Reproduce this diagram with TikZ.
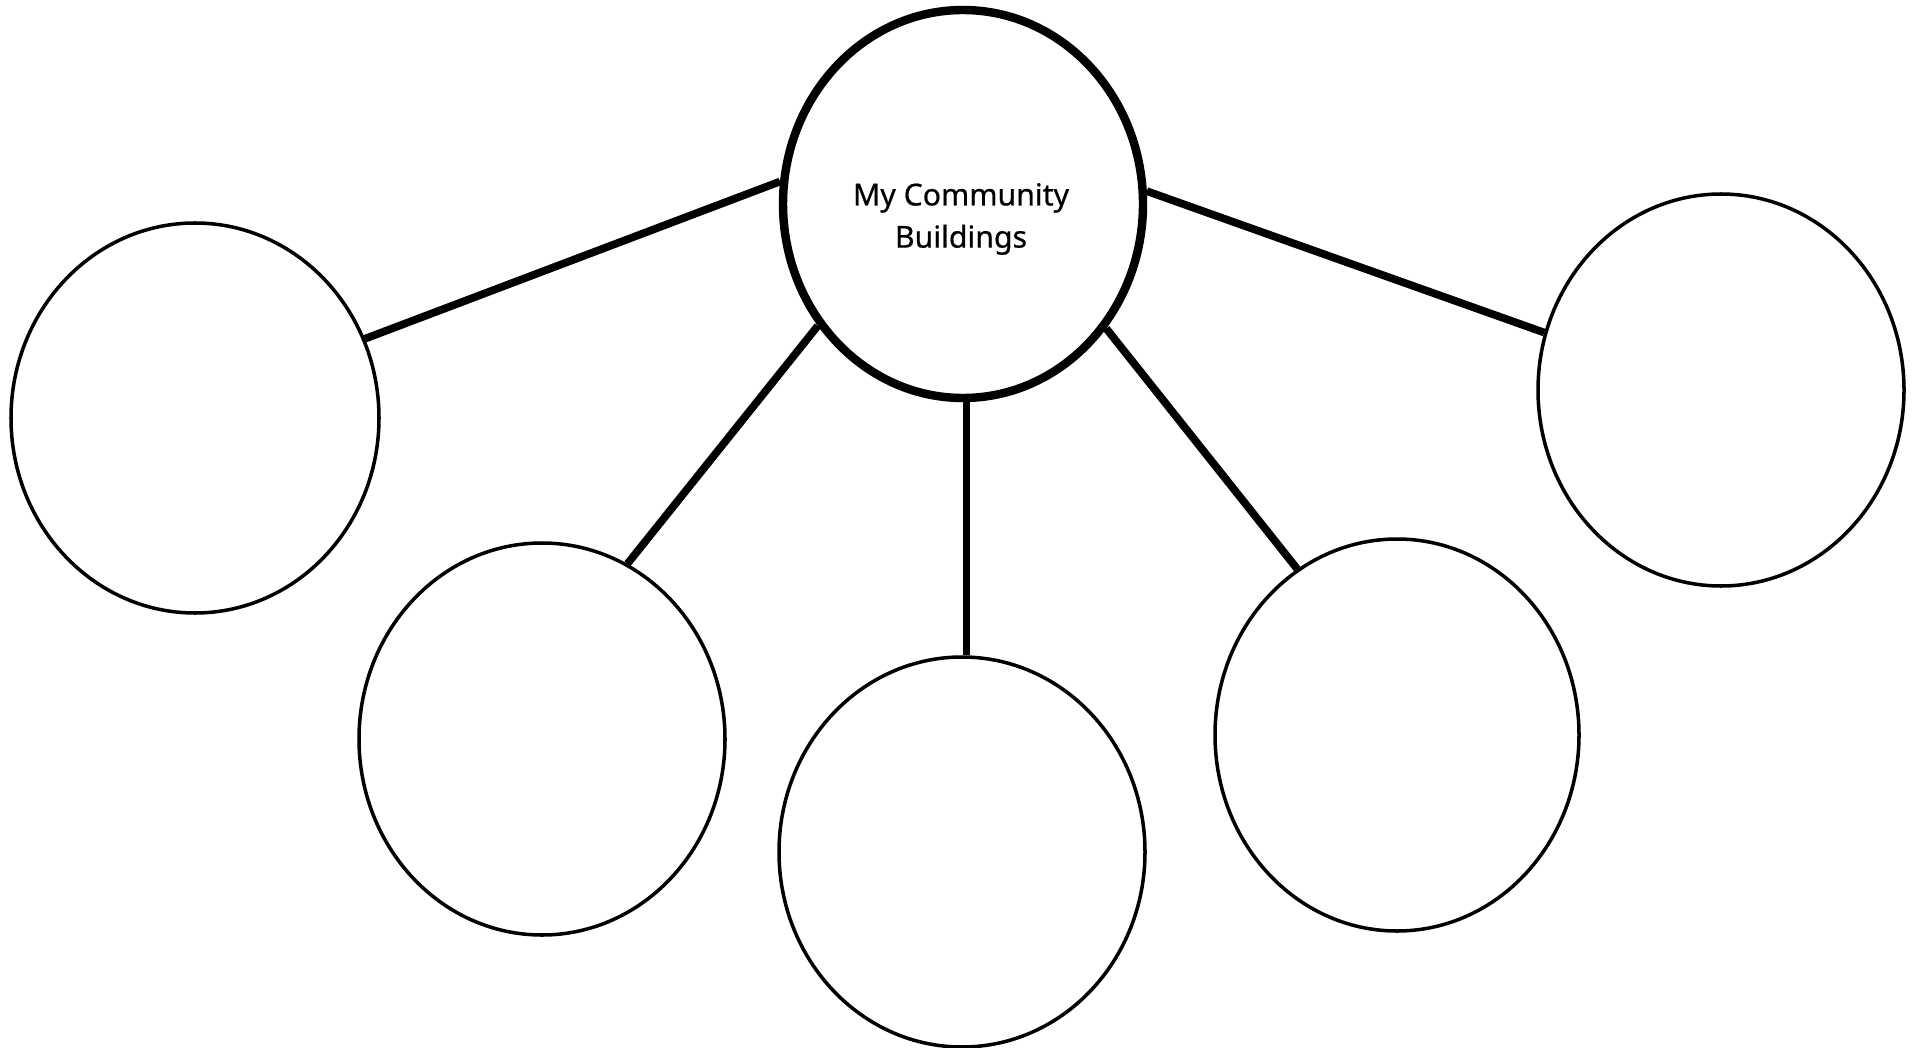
\documentclass[tikz,border=0pt]{standalone}
\usepackage{fontspec}
\setmainfont{Noto Sans}
\usetikzlibrary{shapes.geometric}
\begin{document}
\begin{tikzpicture}[
  bubble/.style={ellipse, draw=black, line width=1pt, inner sep=0pt, fill=white},
  hub/.style={ellipse, draw=black, line width=2.4pt, inner sep=0pt, fill=white},
  link/.style={draw=black, line width=2.2pt},
  title/.style={align=center, font=\fontsize{8.6pt}{12pt}\selectfont\addfontfeatures{FakeBold=0.6}, inner sep=0pt}
]
\useasboundingbox[fill=white] (0,0) rectangle (19.17,-10.48);
\node[hub, minimum width=3.60cm, minimum height=3.88cm] (c) at (9.63,-2.04) {};
\node[bubble, minimum width=3.68cm, minimum height=3.90cm] (l) at (1.95,-4.18) {};
\node[bubble, minimum width=3.66cm, minimum height=3.92cm] (bl) at (5.42,-7.39) {};
\node[bubble, minimum width=3.66cm, minimum height=3.90cm] (bc) at (9.62,-8.52) {};
\node[bubble, minimum width=3.64cm, minimum height=3.92cm] (br) at (13.97,-7.35) {};
\node[bubble, minimum width=3.66cm, minimum height=3.92cm] (r) at (17.21,-3.90) {};
\node[title] (t) at ([yshift=-0.15cm, xshift=-0.02cm]c.center) {My Community\\Buildings};
\draw[link] (l.25.6) -- (c.173.3);
\draw[link] (bl.64.3) -- (c.220);
\draw[link] (c.271.5) -- (c.271.5 |- bc.north);
\draw[link] (br.121.4) -- (c.319.6);
\draw[link] (r.162) -- (c.4.4);
\end{tikzpicture}
\end{document}
